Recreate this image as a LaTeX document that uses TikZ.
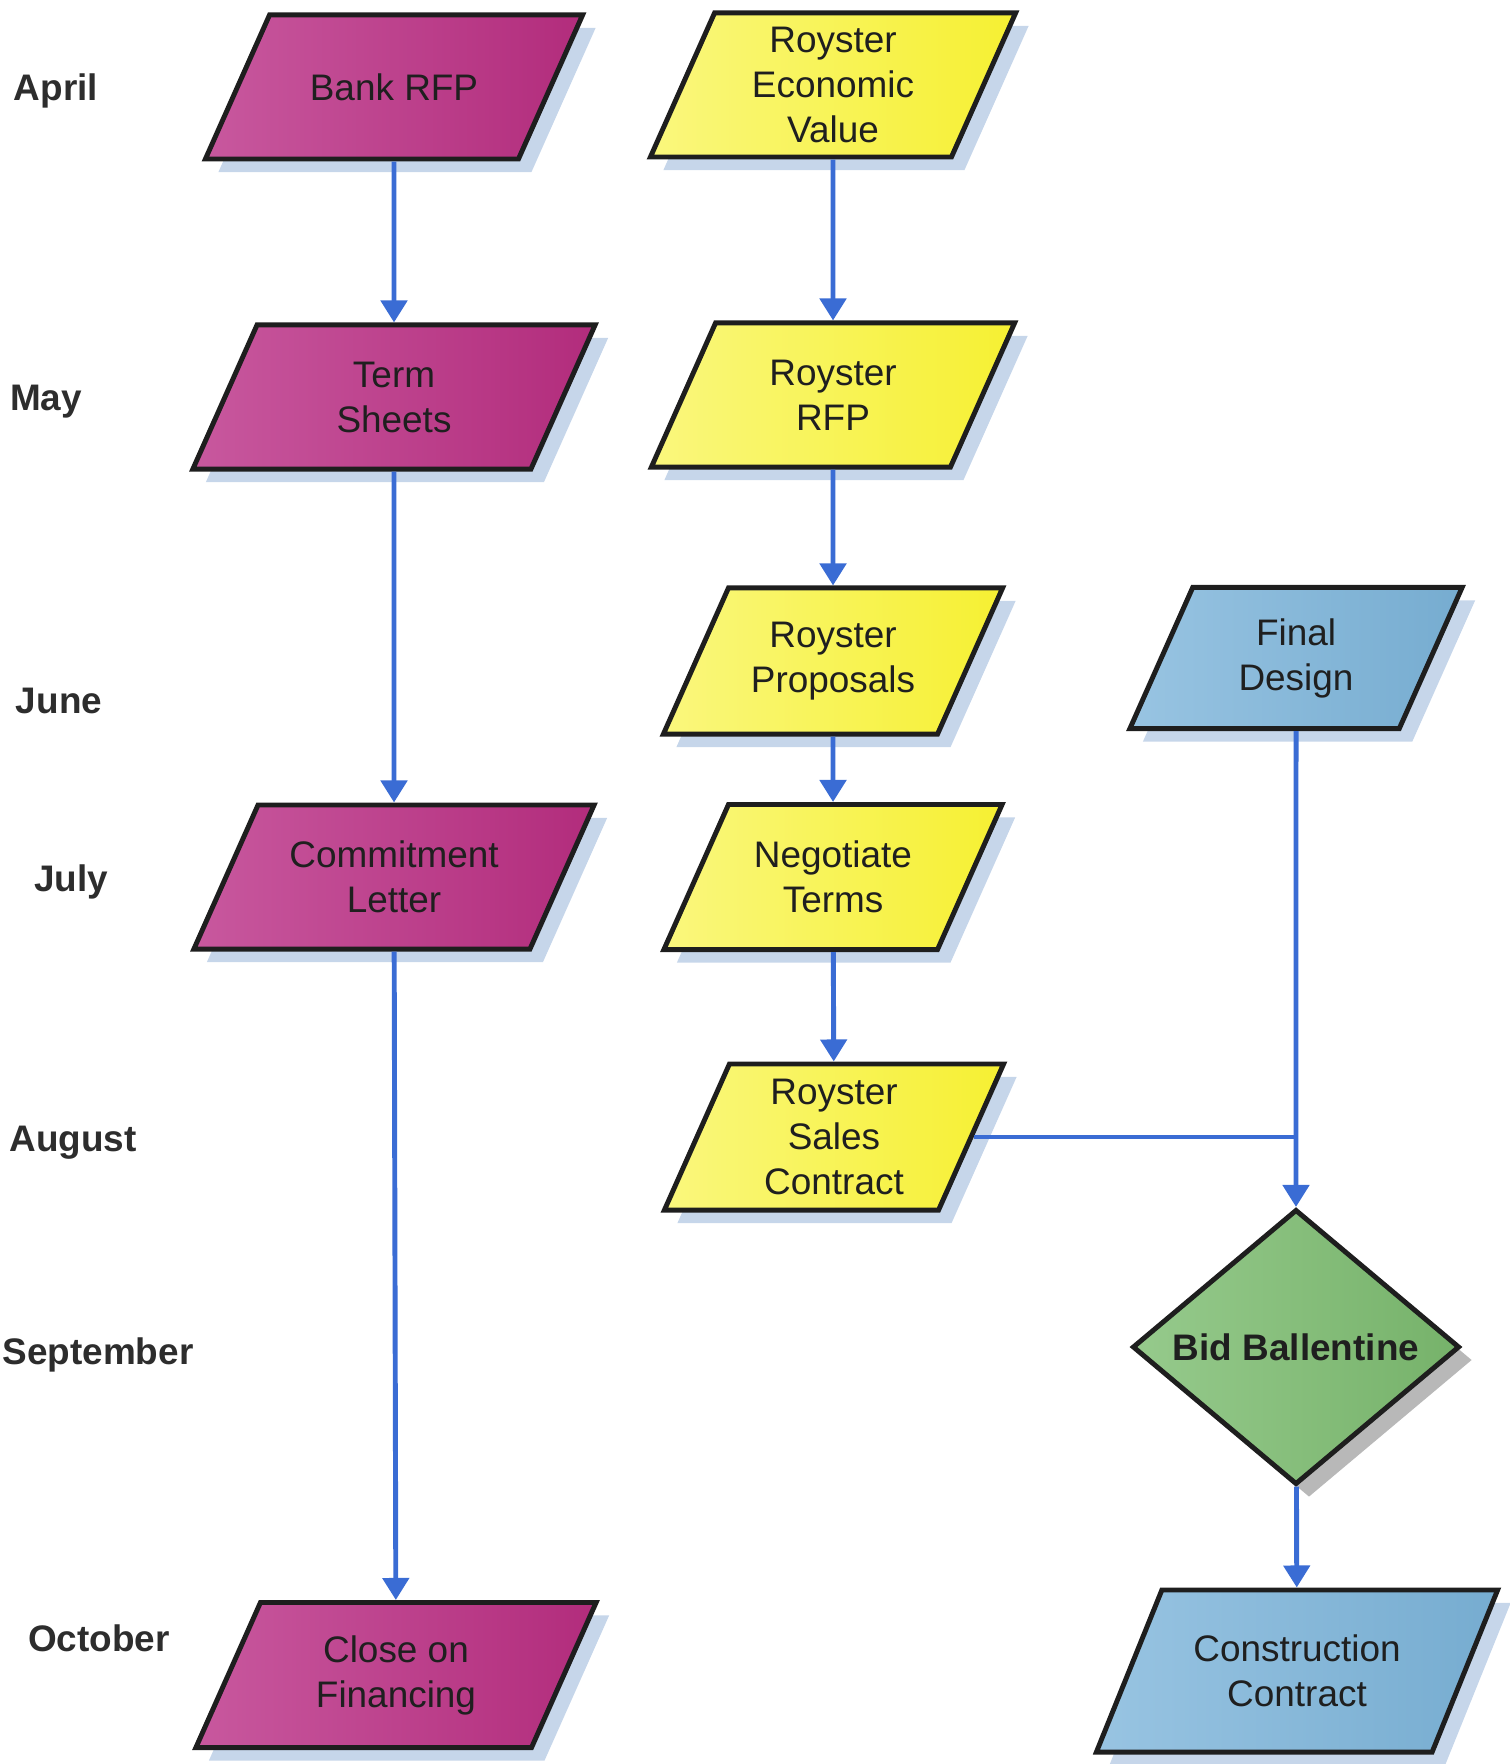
\documentclass[tikz,border=0pt]{standalone}
\usepackage{fontspec}
\setmainfont{Liberation Sans}
\usetikzlibrary{shapes.geometric, arrows.meta, shadows}
\definecolor{bankdark}{RGB}{178,44,124}
\definecolor{banklight}{RGB}{200,88,158}
\definecolor{roysterdark}{RGB}{246,240,50}
\definecolor{roysterlight}{RGB}{250,247,125}
\definecolor{builddark}{RGB}{118,172,208}
\definecolor{buildlight}{RGB}{152,196,226}
\definecolor{biddark}{RGB}{118,178,106}
\definecolor{bidlight}{RGB}{150,202,140}
\definecolor{flowcolor}{RGB}{58,108,212}
\definecolor{outline}{RGB}{30,30,30}
\definecolor{shadowblue}{RGB}{198,214,234}
\definecolor{shadowgray}{RGB}{184,184,184}
\definecolor{monthgray}{RGB}{45,45,45}

\tikzset{box height/.store in=\boxheight, box height=1.30cm,
         box width/.store in=\boxwidth, box width=1.95cm}

\begin{document}
\begin{tikzpicture}[
    x=0.01cm, y=-0.01cm,
    stage/.style={trapezium, trapezium left angle=66, trapezium right angle=114, trapezium stretches body,
        draw=outline, line width=1.4pt, inner xsep=1pt, inner ysep=0.07cm,
        font={\fontsize{10.5}{12.8}\selectfont}, text=black!88,
        execute at begin node={\begin{minipage}[c][\boxheight][c]{\boxwidth}\centering},
        execute at end node={\end{minipage}},
        drop shadow={shadow xshift=0.13cm, shadow yshift=-0.13cm, fill=shadowblue, opacity=1}},
    bank/.style={stage, left color=banklight, right color=bankdark},
    royster/.style={stage, left color=roysterlight, right color=roysterdark},
    build/.style={stage, left color=buildlight, right color=builddark},
    decision/.style={diamond, draw=outline, line width=1.4pt, minimum width=3.27cm, minimum height=2.75cm,
        inner sep=0pt, left color=bidlight, right color=biddark, text=black!88,
        font={\fontsize{10.5}{12.8}\selectfont\bfseries},
        drop shadow={shadow xshift=0.13cm, shadow yshift=-0.13cm, fill=shadowgray, opacity=1}},
    month/.style={font={\fontsize{10.5}{12.8}\selectfont\bfseries}, text=monthgray},
    flow/.style={-{Triangle[length=0.22cm, width=0.26cm]}, line width=1.4pt, flowcolor},
    link/.style={line width=1.4pt, flowcolor}
]
    \useasboundingbox (0,0) rectangle (1510,1764);

    % Months
    \node[month] (apr) at (56,91) {April};
    \node[month] (may) at (46,402) {May};
    \node[month] (jun) at (59,701) {June};
    \node[month] (jul) at (71,882) {July};
    \node[month] (aug) at (73,1143) {August};
    \node[month] (sep) at (98,1355) {September};
    \node[month] (oct) at (99,1638) {October};

    % Financing column
    \node[bank, minimum width=3.77cm] (bankrfp) at (394,87) {Bank RFP};
    \node[bank, minimum width=4.02cm] (terms) at (394,397) {Term\\Sheets};
    \node[bank, minimum width=4.00cm, box width=2.4cm] (commit) at (394,877) {Commitment\\Letter};
    \node[bank, minimum width=4.00cm, box height=1.31cm] (close) at (396,1675) {Close on\\Financing};

    % Royster column
    \node[royster, minimum width=3.65cm] (value) at (833,85) {Royster\\Economic\\Value};
    \node[royster, minimum width=3.63cm] (rfp) at (833,395) {Royster\\RFP};
    \node[royster, minimum width=3.39cm, box height=1.32cm] (proposals) at (833,661) {Royster\\Proposals};
    \node[royster, minimum width=3.38cm, box height=1.31cm] (negotiate) at (833,877) {Negotiate\\Terms};
    \node[royster, minimum width=3.39cm, box height=1.32cm] (sales) at (834,1137) {Royster\\Sales\\Contract};

    % Construction column
    \node[build, minimum width=3.32cm, box height=1.27cm] (design) at (1296,658) {Final\\Design};
    \node[decision] (bid) at (1296,1347) {Bid Ballentine};
    \node[build, trapezium left angle=68, trapezium right angle=112, minimum width=4.01cm, box height=1.48cm, box width=2.4cm] (construct) at (1297,1671) {Construction\\Contract};

    % Arrows
    \draw[flow] (bankrfp) -- (terms);
    \draw[flow] (terms) -- (commit);
    \draw[flow] (commit) -- (close);
    \draw[flow] (value) -- (rfp);
    \draw[flow] (rfp) -- (proposals);
    \draw[flow] (proposals) -- (negotiate);
    \draw[flow] (negotiate) -- (sales);
    \draw[flow] (design) -- (bid);
    \draw[link] (sales.east) -- (sales.east -| design.south);
    \draw[flow] (bid) -- (construct);
\end{tikzpicture}
\end{document}
